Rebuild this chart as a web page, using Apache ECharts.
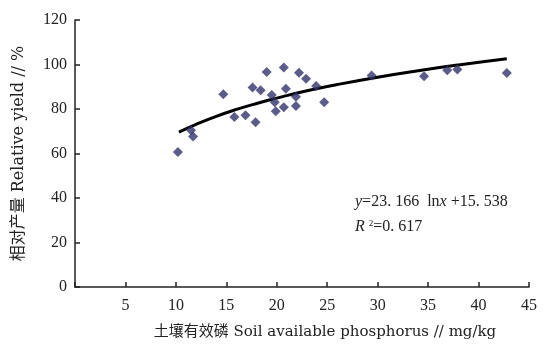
<!DOCTYPE html>
<html>
<head>
<meta charset="utf-8">
<script src="https://cdn.jsdelivr.net/npm/echarts@6/dist/echarts.min.js"></script>
<style>
  html, body { margin: 0; padding: 0; background: #fff; }
  #chart { width: 547px; height: 348px; }
</style>
</head>
<body>
<div id="chart"></div>
<script>
// observed points: soil available P (mg/kg) vs relative yield (%)
const phosphorus = [10.2, 11.5, 11.7, 14.7, 15.8, 16.9, 17.6, 17.9, 18.4, 19.0, 19.5, 19.8, 19.9, 20.7, 20.7, 20.9, 21.9, 21.9, 22.2, 22.9, 23.9, 24.7, 29.4, 34.6, 36.9, 37.9, 42.8]
const relYield = [60.7, 70.4, 67.6, 86.6, 76.4, 77.2, 89.7, 74.0, 88.4, 96.6, 86.3, 83.0, 79.0, 98.7, 80.8, 89.1, 81.3, 85.5, 96.3, 93.6, 90.3, 83.0, 95.1, 94.7, 97.4, 97.7, 96.2]

// fitted curve
const fitX = [10.3, 12, 14, 16, 18, 20, 23, 26, 30, 34, 38, 42.8]
const fitY = [69.6, 73.1, 76.7, 79.8, 82.5, 84.9, 88.2, 91.0, 94.3, 97.2, 99.8, 102.6]

const xTicks = [0, 5, 10, 15, 20, 25, 30, 35, 40, 45]
const yTicks = [0, 20, 40, 60, 80, 100, 120]

const serif = '"Liberation Serif", "DejaVu Serif", "Noto Sans CJK SC", serif'
const wideSerif = '"DejaVu Serif", "Noto Sans CJK SC", serif'

const chart = echarts.init(document.getElementById('chart'))

chart.setOption({
  animation: false,
  grid: { left: 75, right: 18, top: 20, bottom: 61 },
  xAxis: {
    type: 'value',
    min: xTicks[0],
    max: xTicks[xTicks.length - 1],
    interval: 5,
    name: '土壤有效磷 Soil available phosphorus // mg/kg',
    nameLocation: 'middle',
    nameGap: 38,
    nameTextStyle: { fontFamily: wideSerif, fontSize: 15, color: '#222', padding: [0, 0, 0, 46] },
    axisLine: { lineStyle: { color: '#222', width: 1.5 } },
    axisTick: { inside: true, length: 5, lineStyle: { color: '#222', width: 1.5 } },
    axisLabel: {
      fontFamily: serif, fontSize: 16, color: '#222', margin: 11,
      formatter: (v) => (v === 0 ? '' : v)
    },
    splitLine: { show: false }
  },
  yAxis: {
    type: 'value',
    min: yTicks[0],
    max: yTicks[yTicks.length - 1],
    interval: 20,
    name: '相对产量 Relative yield // %',
    nameLocation: 'middle',
    nameGap: 48,
    nameTextStyle: { fontFamily: wideSerif, fontSize: 16, color: '#222' },
    axisLine: { show: true, lineStyle: { color: '#222', width: 1.5 } },
    axisTick: { show: true, inside: true, length: 5, lineStyle: { color: '#222', width: 1.5 } },
    axisLabel: { fontFamily: serif, fontSize: 16, color: '#222', margin: 8 },
    splitLine: { show: false }
  },
  series: [
    {
      type: 'line',
      data: fitX.map((x, i) => [x, fitY[i]]),
      smooth: true,
      showSymbol: false,
      lineStyle: { color: '#000', width: 3 },
      z: 2
    },
    {
      type: 'scatter',
      data: phosphorus.map((x, i) => [x, relYield[i]]),
      symbol: 'diamond',
      symbolSize: 10,
      itemStyle: { color: '#33336e' },
      z: 3
    }
  ],
  graphic: [
    {
      type: 'text',
      left: 355,
      top: 194,
      style: {
        text: '{i|y}=23. 166  ln{i|x} +15. 538',
        rich: { i: { fontStyle: 'italic', fontFamily: serif, fontSize: 16 } },
        fontFamily: serif,
        fontSize: 16,
        fill: '#222'
      }
    },
    {
      type: 'text',
      left: 355,
      top: 219,
      style: {
        text: '{i|R} {s|2}=0. 617',
        rich: {
          i: { fontStyle: 'italic', fontFamily: serif, fontSize: 16 },
          s: { fontFamily: serif, fontSize: 9, verticalAlign: 'top', padding: [0, 0, 6, 0] }
        },
        fontFamily: serif,
        fontSize: 16,
        fill: '#222'
      }
    }
  ]
})
</script>
</body>
</html>
